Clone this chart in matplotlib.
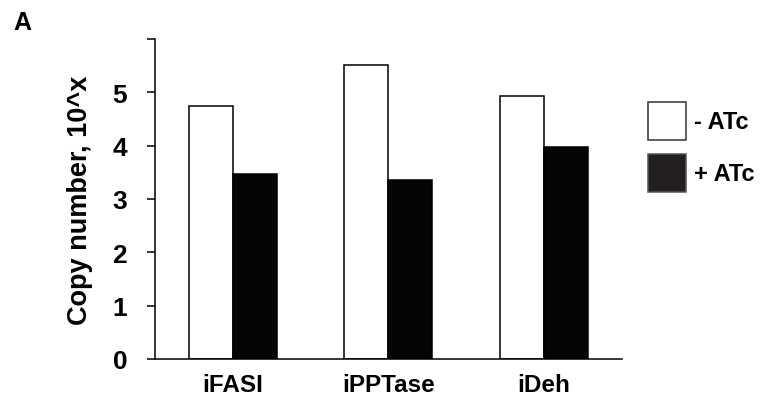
import numpy as np
import matplotlib
matplotlib.use("Agg")
import matplotlib.pyplot as plt
from matplotlib.patches import Patch

# values (log10 copy number)
genes = ["iFASI", "iPPTase", "iDeh"]
minus_atc = [4.75, 5.51, 4.94]
plus_atc = [3.46, 3.36, 3.98]
yticks = [0, 1, 2, 3, 4, 5, 6]
ytick_labels = ["0", "1", "2", "3", "4", "5", ""]

plt.rcParams['font.family'] = ['Liberation Sans', 'DejaVu Sans']
plt.rcParams['font.weight'] = 'bold'

fig = plt.figure(figsize=(7.61, 4.02), dpi=100)
ax = fig.add_axes([0.2037, 0.1045, 0.613, 0.796])

x = np.arange(len(genes))
w = 0.283
ax.bar(x - w / 2, minus_atc, w, color="white", edgecolor="black", linewidth=1.1)
ax.bar(x + w / 2, plus_atc, w, color="#050505", edgecolor="black", linewidth=1.1)

ax.set_xlim(-0.5, 2.5)
ax.set_ylim(0, 6)
ax.set_xticks(x)
ax.set_xticklabels(genes, fontsize=17.5, fontweight="bold")
ax.set_yticks(yticks)
ax.set_yticklabels(ytick_labels, fontsize=19, fontweight="bold")
ax.tick_params(axis="x", length=0, pad=10)
ax.tick_params(axis="y", direction="out", length=6, width=1.1, pad=14)
for s in ["top", "right"]:
    ax.spines[s].set_visible(False)
for s in ["left", "bottom"]:
    ax.spines[s].set_linewidth(1.1)
ax.set_ylabel("Copy number, 10^x", fontsize=19.5, fontweight="bold", labelpad=14)

handles = [Patch(facecolor="white", edgecolor="#333333", linewidth=1.1, label="- ATc"),
           Patch(facecolor="#231f20", edgecolor="#555555", linewidth=1.1, label="+ ATc")]
fig.legend(handles=handles, loc="upper left", bbox_to_anchor=(0.852, 0.745),
           frameon=False, handlelength=1.6, handleheight=2.1,
           handletextpad=0.35, labelspacing=0.6, borderpad=0, borderaxespad=0,
           prop={"weight": "bold", "size": 17})

fig.text(0.018, 0.925, "A", fontsize=18, fontweight="bold")

fig.savefig("out.png", dpi=100)
